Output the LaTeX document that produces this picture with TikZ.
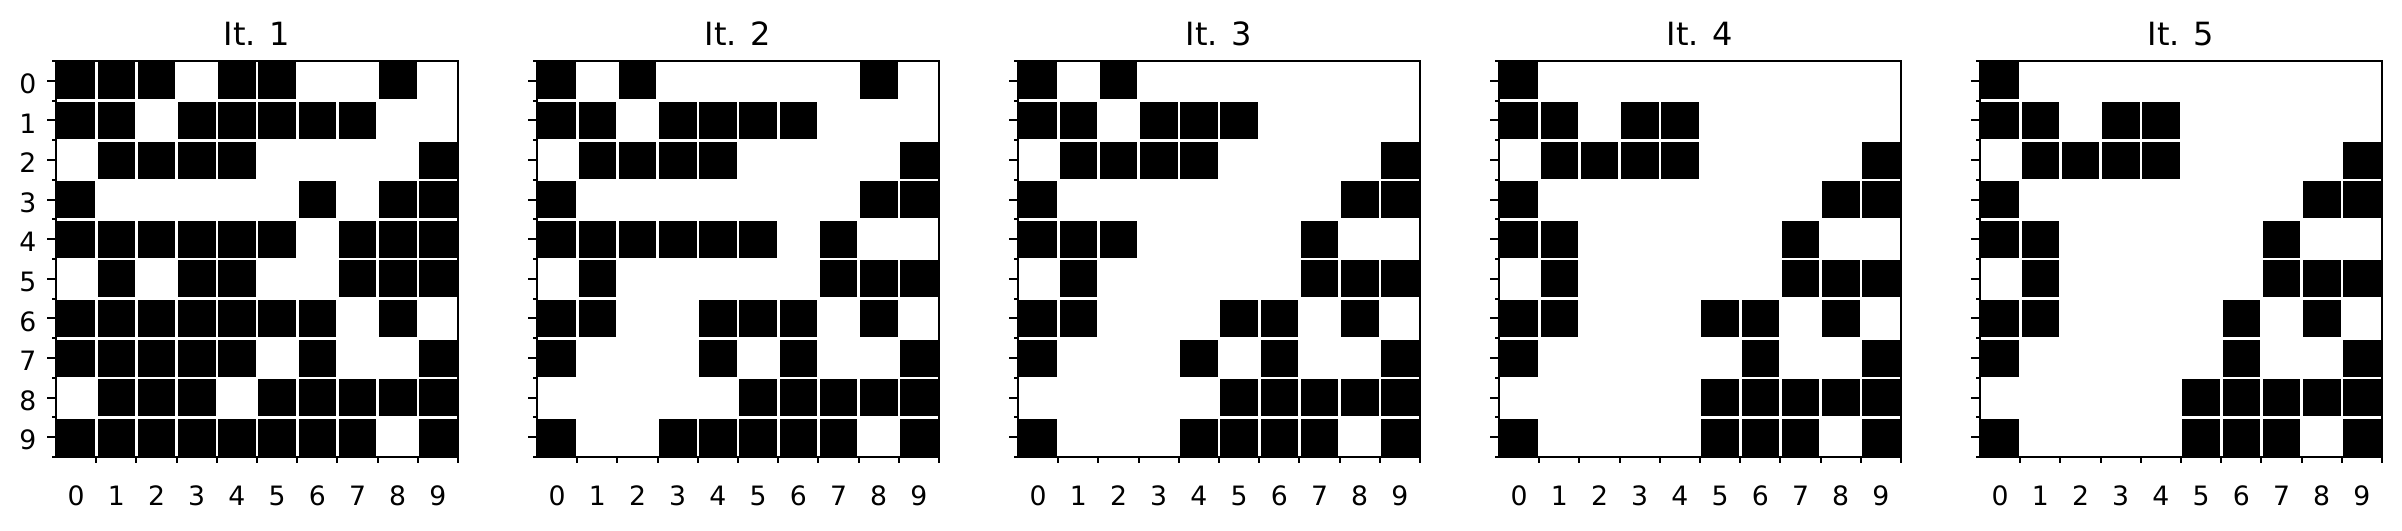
\documentclass[tikz,border=0pt]{standalone}
\usepackage{fontspec}
\setmainfont{DejaVu Sans}
\usepackage{tikz}

\tikzset{
  cell/.style={fill=black},
  gridline/.style={white, line width=0.78pt},
  frame/.style={black, line width=0.66pt},
  tickmark/.style={black, line width=0.6pt},
  ticklabel/.style={font=\fontsize{8}{9.6}\selectfont, inner sep=0pt},
  paneltitle/.style={font=\fontsize{9.6}{11.5}\selectfont, inner sep=0pt, anchor=base},
}

% #1 name, #2 left edge, #3 title, #4 black cells as row/{columns}
\newcommand{\itpanel}[4]{%
  \begin{scope}[shift={(#2,61)}]
    \foreach \r/\cs in {#4} {
      \foreach \c in \cs
        \fill[cell] (\c*40.2,\r*39.6) rectangle ++(40.2,39.6);
    }
    \foreach \k in {1,...,9} {
      \draw[gridline] (\k*40.2,0) -- (\k*40.2,396);
      \draw[gridline] (0,\k*39.6) -- (402,\k*39.6);
    }
    \foreach \k in {0,...,10}
      \draw[tickmark] (0,\k*39.6) -- ++(-4.5,0);
    \foreach \k in {0,...,9}
      \draw[tickmark] (0,\k*39.6+19.8) -- ++(-9,0);
    \foreach \k in {1,...,10}
      \draw[tickmark] (\k*40.2,396) -- ++(0,6);
    \foreach \k in {0,...,9}
      \node[ticklabel, anchor=north] (#1-x\k) at (\k*40.2+20.1,424) {\k};
    \draw[frame] (0,0) rectangle (402,396);
    \node[paneltitle] (#1-title) at (201,-16) {#3};
  \end{scope}
}

\begin{document}
\begin{tikzpicture}[x=0.3pt, y=-0.3pt]
  \useasboundingbox (0,0) rectangle (2402,530);

  \itpanel{it1}{56}{It. 1}{0/{0,1,2,4,5,8}, 1/{0,1,3,4,5,6,7}, 2/{1,2,3,4,9},
    3/{0,6,8,9}, 4/{0,1,2,3,4,5,7,8,9}, 5/{1,3,4,7,8,9}, 6/{0,1,2,3,4,5,6,8},
    7/{0,1,2,3,4,6,9}, 8/{1,2,3,5,6,7,8,9}, 9/{0,1,2,3,4,5,6,7,9}}

  \itpanel{it2}{537}{It. 2}{0/{0,2,8}, 1/{0,1,3,4,5,6}, 2/{1,2,3,4,9},
    3/{0,8,9}, 4/{0,1,2,3,4,5,7}, 5/{1,7,8,9}, 6/{0,1,4,5,6,8},
    7/{0,4,6,9}, 8/{5,6,7,8,9}, 9/{0,3,4,5,6,7,9}}

  \itpanel{it3}{1018}{It. 3}{0/{0,2}, 1/{0,1,3,4,5}, 2/{1,2,3,4,9},
    3/{0,8,9}, 4/{0,1,2,7}, 5/{1,7,8,9}, 6/{0,1,5,6,8},
    7/{0,4,6,9}, 8/{5,6,7,8,9}, 9/{0,4,5,6,7,9}}

  \itpanel{it4}{1499}{It. 4}{0/{0}, 1/{0,1,3,4}, 2/{1,2,3,4,9},
    3/{0,8,9}, 4/{0,1,7}, 5/{1,7,8,9}, 6/{0,1,5,6,8},
    7/{0,6,9}, 8/{5,6,7,8,9}, 9/{0,5,6,7,9}}

  \itpanel{it5}{1980}{It. 5}{0/{0}, 1/{0,1,3,4}, 2/{1,2,3,4,9},
    3/{0,8,9}, 4/{0,1,7}, 5/{1,7,8,9}, 6/{0,1,6,8},
    7/{0,6,9}, 8/{5,6,7,8,9}, 9/{0,5,6,7,9}}

  % row labels, first panel only
  \foreach \k in {0,...,9}
    \node[ticklabel, anchor=east] (it1-y\k) at (37,\k*39.6+83.8) {\k};
\end{tikzpicture}
\end{document}
